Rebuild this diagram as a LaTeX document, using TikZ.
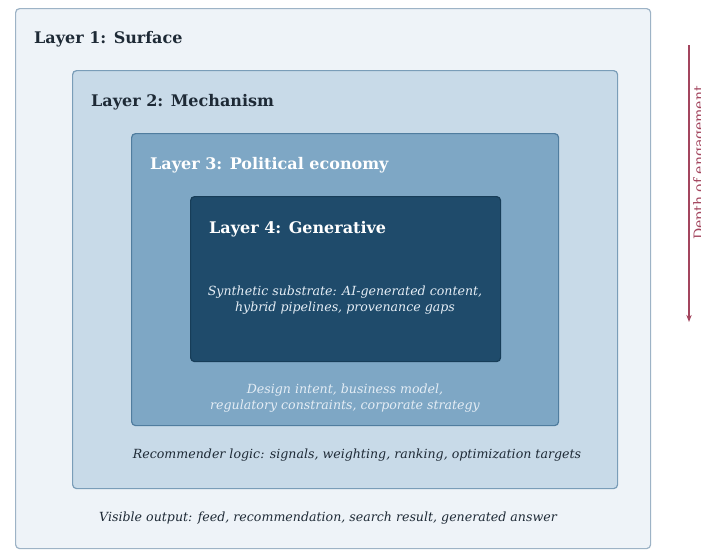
\documentclass[tikz,border=0pt]{standalone}
\usepackage{fontspec}
\setmainfont{DejaVuSerif}[Extension=.ttf, BoldFont=DejaVuSerif-Bold, ItalicFont=DejaVuSerif-Italic, BoldItalicFont=DejaVuSerif-BoldItalic]
\usepackage{xcolor}
\usepackage{tikz}
\usetikzlibrary{arrows.meta, positioning}
\definecolor{surfacefill}{HTML}{EEF3F8}
\definecolor{surfaceline}{HTML}{9DB3C6}
\definecolor{mechfill}{HTML}{C8DAE8}
\definecolor{mechline}{HTML}{7A9DB8}
\definecolor{polfill}{HTML}{7EA7C5}
\definecolor{polline}{HTML}{507D9F}
\definecolor{genfill}{HTML}{1F4B6B}
\definecolor{genline}{HTML}{173D58}
\definecolor{inktext}{HTML}{1E2A36}
\definecolor{palettext}{HTML}{E4EDF5}
\definecolor{depthred}{HTML}{A3455E}
\tikzset{
  layer/.style={rectangle, rounded corners=4pt, line width=1.2pt, anchor=north west, inner sep=0pt},
  title/.style={anchor=north west, inner sep=0pt, font=\fontsize{16}{18}\selectfont\bfseries},
  note/.style={align=center, inner sep=0pt, font=\fontsize{12.6}{15.5}\selectfont\itshape},
  arrow/.style={-{Stealth[length=2.5mm]}, line width=1.1pt, draw=depthred}
}
\begin{document}
\begin{tikzpicture}[x=1pt, y=-1pt]
  \useasboundingbox[fill=white] (0,0) rectangle (701,550);
  % nested layers
  \node[layer, draw=surfaceline, fill=surfacefill, minimum width=635pt, minimum height=540pt] (l1) at (15,8) {};
  \node[layer, draw=mechline, fill=mechfill, minimum width=545pt, minimum height=418pt] (l2) at (72,70) {};
  \node[layer, draw=polline, fill=polfill, minimum width=427pt, minimum height=292pt] (l3) at (131,133) {};
  \node[layer, draw=genline, fill=genfill, minimum width=310pt, minimum height=165pt] (l4) at (190,196) {};
  % titles
  \node[title, text=inktext, below right=23pt and 19pt of l1.north west] (t1) {Layer 1: Surface};
  \node[title, text=inktext, below right=24pt and 19pt of l2.north west] (t2) {Layer 2: Mechanism};
  \node[title, text=white, below right=24pt and 19pt of l3.north west] (t3) {Layer 3: Political economy};
  \node[title, text=white, below right=25pt and 19pt of l4.north west] (t4) {Layer 4: Generative};
  % descriptions
  \node[note, text=palettext] (d4) at (345,300) {Synthetic substrate: AI-generated content,\\hybrid pipelines, provenance gaps};
  \node[note, text=palettext] (d3) at (345,398) {Design intent, business model,\\regulatory constraints, corporate strategy};
  \node[note, text=inktext] (d2) at (357,455) {Recommender logic: signals, weighting, ranking, optimization targets};
  \node[note, text=inktext] (d1) at (328,518) {Visible output: feed, recommendation, search result, generated answer};
  % depth arrow
  \coordinate (dtop) at (689,45);
  \coordinate (dbot) at (689,322);
  \draw[arrow] (dtop) -- (dbot);
  \node[rotate=90, text=depthred, inner sep=0pt, font=\fontsize{14}{16}\selectfont] (dlabel) at (700,163) {Depth of engagement};
\end{tikzpicture}
\end{document}
